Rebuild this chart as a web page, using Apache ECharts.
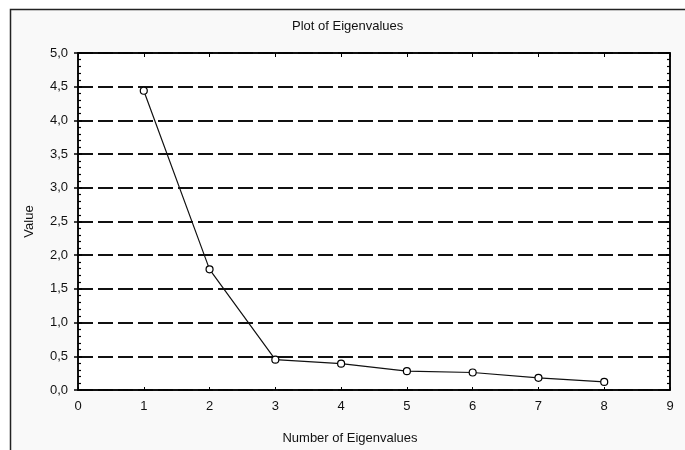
<!DOCTYPE html>
<html>
<head>
<meta charset="utf-8">
<script src="https://cdn.jsdelivr.net/npm/echarts@6/dist/echarts.min.js"></script>
<style>
html,body{margin:0;padding:0;background:#fff;}
#chart{width:685px;height:450px;}
</style>
</head>
<body>
<div id="chart"></div>
<script>
const eigenNumbers = [1, 2, 3, 4, 5, 6, 7, 8];
const eigenValues = [4.44, 1.79, 0.45, 0.39, 0.28, 0.26, 0.18, 0.12];
const chartTitle = 'Plot of Eigenvalues';
const xName = 'Number of Eigenvalues';
const yName = 'Value';

const fmtComma = v => v.toFixed(1).replace('.', ',');
const font = 'Liberation Sans, Arial, sans-serif';
const chart = echarts.init(document.getElementById('chart'), null, {renderer: 'canvas'});

const gridL = 78, gridT = 53, gridW = 592, gridH = 340;

chart.setOption({
  backgroundColor: '#ffffff',
  animation: false,
  graphic: [
    {type: 'rect', z: -10, shape: {x: 10.5, y: 9.5, width: 700, height: 460},
     style: {fill: '#f9f9f9', stroke: '#222', lineWidth: 1.5}},
    {type: 'text', left: 352 - 60, top: 20, z: 10,
     style: {text: chartTitle, font: '13px ' + font, fill: '#111', width: 120, align: 'center'}}
  ],
  grid: {left: gridL, top: gridT, width: gridW, height: gridH, show: true,
         backgroundColor: '#ffffff', borderColor: '#000', borderWidth: 1.5},
  xAxis: [
    {type: 'value', position: 'bottom', min: 0, max: 9, interval: 1,
     name: xName, nameLocation: 'middle', nameGap: 42,
     nameTextStyle: {fontFamily: font, fontSize: 13, color: '#111', padding: [0, 48, 0, 0]},
     axisLine: {show: true, onZero: false, lineStyle: {color: '#000', width: 1.5}},
     axisTick: {show: true, inside: true, length: 3, lineStyle: {color: '#000'}},
     axisLabel: {fontFamily: font, fontSize: 13, color: '#111', margin: 10},
     splitLine: {show: false}},
    {type: 'value', position: 'top', min: 0, max: 9, interval: 1,
     axisLine: {show: true, onZero: false, lineStyle: {color: '#000', width: 1.5}},
     axisTick: {show: true, inside: true, length: 4, lineStyle: {color: '#000'}},
     axisLabel: {show: false}, splitLine: {show: false}}
  ],
  yAxis: [
    {type: 'value', position: 'left', min: 0, max: 5, interval: 0.5,
     name: yName, nameLocation: 'middle', nameGap: 42, nameRotate: 90,
     nameTextStyle: {fontFamily: font, fontSize: 13, color: '#111'},
     axisLine: {show: true, onZero: false, lineStyle: {color: '#000', width: 1.5}},
     axisTick: {show: true, inside: false, length: 4, lineStyle: {color: '#000', width: 1.5}},
     axisLabel: {fontFamily: font, fontSize: 13, color: '#111', margin: 10, formatter: fmtComma},
     splitLine: {show: true, lineStyle: {color: '#111', width: 2, type: [15, 5]}}},
    {type: 'value', position: 'left', min: 0, max: 5, interval: 0.5,
     axisLine: {show: false},
     axisTick: {show: true, inside: true, length: 4, lineStyle: {color: '#000', width: 1.5}},
     minorTick: {show: true, splitNumber: 5, length: 3, lineStyle: {color: '#000', width: 1.2}},
     axisLabel: {show: false}, splitLine: {show: false}},
    {type: 'value', position: 'right', min: 0, max: 5, interval: 0.5,
     axisLine: {show: true, onZero: false, lineStyle: {color: '#000', width: 1.5}},
     axisTick: {show: true, inside: true, length: 4, lineStyle: {color: '#000', width: 1.5}},
     minorTick: {show: true, splitNumber: 5, length: 3, lineStyle: {color: '#000', width: 1.2}},
     axisLabel: {show: false}, splitLine: {show: false}}
  ],
  series: [{
    type: 'line',
    xAxisIndex: 0, yAxisIndex: 0,
    data: eigenNumbers.map((n, i) => [n, eigenValues[i]]),
    lineStyle: {color: '#111', width: 1.2},
    symbol: 'circle', symbolSize: 7,
    itemStyle: {color: '#ffffff', borderColor: '#000', borderWidth: 1.2},
    z: 5
  }]
});
</script>
</body>
</html>
